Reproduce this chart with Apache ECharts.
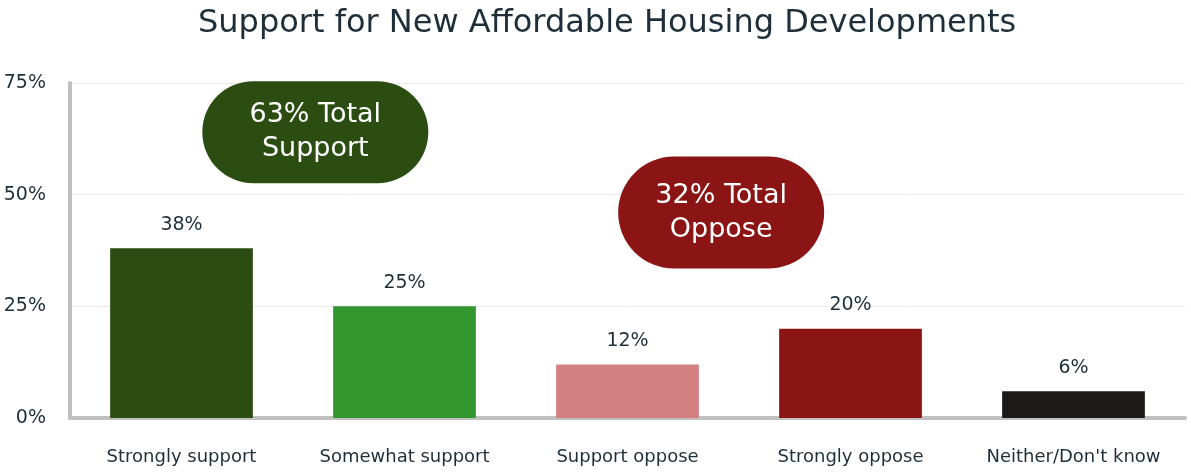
<!DOCTYPE html>
<html>
<head>
<meta charset="utf-8">
<script src="https://cdn.jsdelivr.net/npm/echarts@6/dist/echarts.min.js"></script>
<style>
  html, body { margin: 0; padding: 0; background: #fff; }
  #chart { width: 1191px; height: 473px; }
</style>
</head>
<body>
<div id="chart"></div>
<script>
// data
var categories = ['Strongly support', 'Somewhat support', 'Support oppose', 'Strongly oppose', "Neither/Don't know"];
var values = [38, 25, 12, 20, 6];
var barColors = ['#2b4d12', '#33962f', '#d48080', '#8b1414', '#1c1a18'];
var yTicks = [0, 25, 50, 75];
var notes = ['63% Total\nSupport', '32% Total\nOppose'];

var FONT = '"DejaVu Sans", sans-serif';
var myChart = echarts.init(document.getElementById('chart'));

var option = {
    animation: false,
    title: {
        text: 'Support for New Affordable Housing Developments',
        left: 193,
        top: 3,
        textStyle: { fontFamily: FONT, fontSize: 32, fontWeight: 'normal', color: '#1f2f3a' }
    },
    grid: { left: 70, right: 6, top: 83, bottom: 55 },
    xAxis: {
        type: 'category',
        data: categories,
        axisLine: { lineStyle: { color: '#c0c0c0', width: 4 } },
        axisTick: { show: false },
        axisLabel: { interval: 0, margin: 30, fontFamily: FONT, fontSize: 18, color: '#1f2f3a' }
    },
    yAxis: {
        type: 'value',
        min: yTicks[0],
        max: yTicks[yTicks.length - 1],
        interval: 25,
        axisLine: { show: true, lineStyle: { color: '#c0c0c0', width: 4 } },
        axisTick: { show: false },
        axisLabel: { margin: 24, formatter: '{value}%', fontFamily: FONT, fontSize: 19, color: '#1f2f3a' },
        splitLine: { lineStyle: { color: '#ebebeb' } }
    },
    series: [{
        type: 'bar',
        barWidth: '64%',
        data: values.map(function (v, i) {
            return { value: v, itemStyle: { color: barColors[i] } };
        }),
        label: {
            show: true,
            position: 'top',
            distance: 14,
            formatter: '{c}%',
            fontFamily: FONT,
            fontSize: 19,
            color: '#1f2f3a'
        }
    }]
};
myChart.setOption(option);

// the two pill callouts; category axis snaps to whole indexes, so interpolate between centres
function pill(text, xi, yv, w, h, color) {
    var i0 = Math.floor(xi);
    var a = myChart.convertToPixel({ gridIndex: 0 }, [i0, yv]);
    var b = myChart.convertToPixel({ gridIndex: 0 }, [i0 + 1, yv]);
    var px = a[0] + (b[0] - a[0]) * (xi - i0);
    return {
        type: 'group',
        x: px - w / 2,
        y: a[1] - h / 2,
        children: [{
            type: 'rect',
            shape: { x: 0, y: 0, width: w, height: h, r: h / 2 },
            style: { fill: color }
        }, {
            type: 'text',
            x: w / 2,
            y: h / 2,
            style: {
                text: text,
                fill: '#ffffff',
                fontFamily: FONT,
                fontSize: 27,
                lineHeight: 34,
                align: 'center',
                verticalAlign: 'middle'
            }
        }]
    };
}
myChart.setOption({
    graphic: [
        pill(notes[0], 0.6, 64, 226, 102, '#2b4d12'),
        pill(notes[1], 2.42, 46, 206, 112, '#8b1414')
    ]
});
</script>
</body>
</html>
